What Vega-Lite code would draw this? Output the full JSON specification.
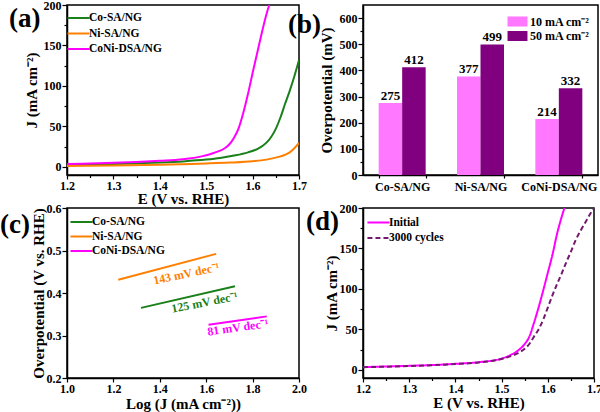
{
  "$schema": "https://vega.github.io/schema/vega-lite/v6.json",
  "background": "white",
  "padding": {"left": -1, "top": -2, "right": 2, "bottom": 2},
  "columns": 2,
  "bounds": "flush",
  "spacing": {"row": 33, "column": 64},
  "resolve": {
    "scale": {"color": "independent", "strokeDash": "independent", "x": "independent", "y": "independent"},
    "legend": {"color": "independent", "strokeDash": "independent"}
  },
  "config": {
    "font": "Liberation Serif",
    "view": {"stroke": "black", "strokeWidth": 1.5},
    "title": {"font": "Liberation Serif", "fontWeight": "bold", "color": "black"},
    "axis": {
      "labelFont": "Liberation Serif", "labelFontWeight": "bold", "labelFontSize": 12, "labelColor": "black",
      "titleFont": "Liberation Serif", "titleFontWeight": "bold", "titleFontSize": 15, "titleColor": "black",
      "domainColor": "black", "domainWidth": 1.5, "tickColor": "black", "tickWidth": 1.2, "grid": false,
      "labelPadding": 1, "titlePadding": 0, "labelFlush": false, "labelOverlap": false, "labelBound": false
    },
    "axisX": {"titlePadding": 0},
    "legend": {
      "labelFont": "Liberation Serif", "labelFontWeight": "bold", "labelFontSize": 11.5, "labelColor": "black",
      "padding": 0, "rowPadding": 2.5, "labelOffset": 3, "title": null
    }
  },
  "concat": [
    {
      "width": 232, "height": 170,
      "title": {"text": "(a)", "orient": "left", "anchor": "end", "angle": 0, "align": "right", "baseline": "top", "fontSize": 27, "offset": 0, "dx": 48, "dy": 7},
      "data": {"values": [
        {"series": "Co-SA/NG", "E": 1.20, "J": 2.5}, {"series": "Co-SA/NG", "E": 1.25, "J": 3.0}, {"series": "Co-SA/NG", "E": 1.30, "J": 3.6},
        {"series": "Co-SA/NG", "E": 1.35, "J": 4.4}, {"series": "Co-SA/NG", "E": 1.40, "J": 5.4}, {"series": "Co-SA/NG", "E": 1.45, "J": 6.8},
        {"series": "Co-SA/NG", "E": 1.50, "J": 9}, {"series": "Co-SA/NG", "E": 1.53, "J": 11}, {"series": "Co-SA/NG", "E": 1.56, "J": 14},
        {"series": "Co-SA/NG", "E": 1.59, "J": 18}, {"series": "Co-SA/NG", "E": 1.61, "J": 22}, {"series": "Co-SA/NG", "E": 1.63, "J": 30},
        {"series": "Co-SA/NG", "E": 1.64, "J": 37}, {"series": "Co-SA/NG", "E": 1.65, "J": 47}, {"series": "Co-SA/NG", "E": 1.66, "J": 61},
        {"series": "Co-SA/NG", "E": 1.67, "J": 78}, {"series": "Co-SA/NG", "E": 1.68, "J": 94}, {"series": "Co-SA/NG", "E": 1.69, "J": 112},
        {"series": "Co-SA/NG", "E": 1.70, "J": 132},
        {"series": "Ni-SA/NG", "E": 1.20, "J": 1.2}, {"series": "Ni-SA/NG", "E": 1.30, "J": 1.8}, {"series": "Ni-SA/NG", "E": 1.40, "J": 2.6},
        {"series": "Ni-SA/NG", "E": 1.45, "J": 3.3}, {"series": "Ni-SA/NG", "E": 1.50, "J": 4.2}, {"series": "Ni-SA/NG", "E": 1.55, "J": 5.3},
        {"series": "Ni-SA/NG", "E": 1.60, "J": 7}, {"series": "Ni-SA/NG", "E": 1.63, "J": 9}, {"series": "Ni-SA/NG", "E": 1.65, "J": 11.5},
        {"series": "Ni-SA/NG", "E": 1.67, "J": 15}, {"series": "Ni-SA/NG", "E": 1.68, "J": 18}, {"series": "Ni-SA/NG", "E": 1.69, "J": 23},
        {"series": "Ni-SA/NG", "E": 1.70, "J": 29.6},
        {"series": "CoNi-DSA/NG", "E": 1.20, "J": 3.5}, {"series": "CoNi-DSA/NG", "E": 1.25, "J": 4.2}, {"series": "CoNi-DSA/NG", "E": 1.30, "J": 5.0},
        {"series": "CoNi-DSA/NG", "E": 1.35, "J": 6.0}, {"series": "CoNi-DSA/NG", "E": 1.40, "J": 7.5}, {"series": "CoNi-DSA/NG", "E": 1.45, "J": 9.5},
        {"series": "CoNi-DSA/NG", "E": 1.49, "J": 13}, {"series": "CoNi-DSA/NG", "E": 1.51, "J": 16}, {"series": "CoNi-DSA/NG", "E": 1.53, "J": 20},
        {"series": "CoNi-DSA/NG", "E": 1.54, "J": 23}, {"series": "CoNi-DSA/NG", "E": 1.55, "J": 28}, {"series": "CoNi-DSA/NG", "E": 1.56, "J": 36},
        {"series": "CoNi-DSA/NG", "E": 1.57, "J": 48}, {"series": "CoNi-DSA/NG", "E": 1.58, "J": 67}, {"series": "CoNi-DSA/NG", "E": 1.59, "J": 90},
        {"series": "CoNi-DSA/NG", "E": 1.60, "J": 116}, {"series": "CoNi-DSA/NG", "E": 1.61, "J": 141}, {"series": "CoNi-DSA/NG", "E": 1.62, "J": 166},
        {"series": "CoNi-DSA/NG", "E": 1.63, "J": 189}, {"series": "CoNi-DSA/NG", "E": 1.636, "J": 200}
      ]},
      "mark": {"type": "line", "strokeWidth": 2, "interpolate": "monotone", "clip": true},
      "encoding": {
        "x": {"field": "E", "type": "quantitative", "scale": {"domain": [1.2, 1.7], "nice": false, "zero": false},
          "axis": {"title": "E (V vs. RHE)", "values": [1.2, 1.25, 1.3, 1.35, 1.4, 1.45, 1.5, 1.55, 1.6, 1.65, 1.7],
            "labelExpr": "abs(datum.value*10 - round(datum.value*10)) > 0.001 ? '' : format(datum.value, '.1f')",
            "tickSize": {"condition": {"test": "abs(datum.value*10 - round(datum.value*10)) > 0.001", "value": 2.5}, "value": 4}}},
        "y": {"field": "J", "type": "quantitative", "scale": {"domain": [-10, 200], "nice": false, "zero": false},
          "axis": {"title": "J (mA cm⁻²)", "titlePadding": 4, "values": [0, 25, 50, 75, 100, 125, 150, 175, 200],
            "labelExpr": "datum.value % 50 != 0 ? '' : datum.label",
            "tickSize": {"condition": {"test": "datum.value % 50 != 0", "value": 3}, "value": 5}}},
        "color": {"field": "series", "type": "nominal",
          "scale": {"domain": ["Co-SA/NG", "Ni-SA/NG", "CoNi-DSA/NG"], "range": ["#1A801A", "#FF8000", "#FF00FF"]},
          "legend": {"orient": "none", "legendX": 4, "legendY": 5.5, "symbolType": "M-1.7,0H1.7", "symbolSize": 169, "symbolStrokeWidth": 2}}
      }
    },
    {
      "width": 235, "height": 170,
      "title": {"text": "(b)", "orient": "left", "anchor": "end", "angle": 0, "align": "right", "baseline": "top", "fontSize": 27, "offset": 0, "dx": 35, "dy": 7},
      "data": {"values": [
        {"catalyst": "Co-SA/NG", "density": "10 mA cm⁻²", "value": 275},
        {"catalyst": "Co-SA/NG", "density": "50 mA cm⁻²", "value": 412},
        {"catalyst": "Ni-SA/NG", "density": "10 mA cm⁻²", "value": 377},
        {"catalyst": "Ni-SA/NG", "density": "50 mA cm⁻²", "value": 499},
        {"catalyst": "CoNi-DSA/NG", "density": "10 mA cm⁻²", "value": 214},
        {"catalyst": "CoNi-DSA/NG", "density": "50 mA cm⁻²", "value": 332}
      ]},
      "encoding": {
        "x": {"field": "catalyst", "type": "nominal", "sort": ["Co-SA/NG", "Ni-SA/NG", "CoNi-DSA/NG"],
          "scale": {"paddingInner": 0.4, "paddingOuter": 0.2},
          "axis": {"title": null, "labelAngle": 0, "tickBand": "extent", "tickSize": 3, "labelPadding": 3}},
        "xOffset": {"field": "density", "type": "nominal", "sort": ["10 mA cm⁻²", "50 mA cm⁻²"], "scale": {"paddingInner": 0, "paddingOuter": 0}},
        "y": {"field": "value", "type": "quantitative", "scale": {"domain": [0, 650], "nice": false},
          "axis": {"title": "Overpotential (mV)", "titlePadding": 5, "values": [0, 50, 100, 150, 200, 250, 300, 350, 400, 450, 500, 550, 600],
            "labelExpr": "datum.value % 100 != 0 ? '' : datum.label",
            "tickSize": {"condition": {"test": "datum.value % 100 != 0", "value": 3}, "value": 5}}}
      },
      "layer": [
        {
          "mark": {"type": "bar"},
          "encoding": {
            "color": {"field": "density", "type": "nominal",
              "scale": {"domain": ["10 mA cm⁻²", "50 mA cm⁻²"], "range": ["#FF78FF", "#800080"]},
              "legend": {"orient": "none", "legendX": 147, "legendY": 9, "symbolType": "M-1.33,-0.67H1.33V0.67H-1.33Z", "symbolSize": 225, "symbolStrokeWidth": 0, "labelOffset": 5, "labelFontSize": 12, "rowPadding": 0.5}}
          }
        },
        {
          "mark": {"type": "text", "dy": -7, "fontSize": 13, "fontWeight": "bold", "font": "Liberation Serif", "color": "black"},
          "encoding": {"text": {"field": "value", "type": "quantitative"}}
        }
      ]
    },
    {
      "width": 232, "height": 170,
      "title": {"text": "(c)", "orient": "left", "anchor": "end", "angle": 0, "align": "right", "baseline": "top", "fontSize": 27, "offset": 0, "dx": 29, "dy": 10},
      "layer": [
        {
          "data": {"values": [
            {"series": "Co-SA/NG", "logJ": 1.319, "eta": 0.365}, {"series": "Co-SA/NG", "logJ": 1.724, "eta": 0.416},
            {"series": "Ni-SA/NG", "logJ": 1.221, "eta": 0.431}, {"series": "Ni-SA/NG", "logJ": 1.643, "eta": 0.492},
            {"series": "CoNi-DSA/NG", "logJ": 1.610, "eta": 0.3255}, {"series": "CoNi-DSA/NG", "logJ": 1.861, "eta": 0.345}
          ]},
          "mark": {"type": "line", "strokeWidth": 2},
          "encoding": {
            "x": {"field": "logJ", "type": "quantitative", "scale": {"domain": [1.0, 2.0], "nice": false, "zero": false},
              "axis": {"title": "Log (J (mA cm⁻²))", "titlePadding": 2, "values": [1.0, 1.1, 1.2, 1.3, 1.4, 1.5, 1.6, 1.7, 1.8, 1.9, 2.0],
                "labelExpr": "abs(datum.value*5 - round(datum.value*5)) > 0.001 ? '' : format(datum.value, '.1f')",
                "tickSize": {"condition": {"test": "abs(datum.value*5 - round(datum.value*5)) > 0.001", "value": 2.5}, "value": 4}}},
            "y": {"field": "eta", "type": "quantitative", "scale": {"domain": [0.2, 0.6], "nice": false, "zero": false},
              "axis": {"title": "Overpotential (V vs. RHE)", "values": [0.2, 0.25, 0.3, 0.35, 0.4, 0.45, 0.5, 0.55, 0.6],
                "labelExpr": "abs(datum.value*10 - round(datum.value*10)) > 0.001 ? '' : format(datum.value, '.1f')",
                "tickSize": {"condition": {"test": "abs(datum.value*10 - round(datum.value*10)) > 0.001", "value": 3}, "value": 5}}},
            "color": {"field": "series", "type": "nominal",
              "scale": {"domain": ["Co-SA/NG", "Ni-SA/NG", "CoNi-DSA/NG"], "range": ["#1A801A", "#FF8000", "#FF00FF"]},
              "legend": {"orient": "none", "legendX": 7, "legendY": 6.5, "symbolType": "M-1.7,0H1.7", "symbolSize": 169, "symbolStrokeWidth": 2, "rowPadding": 1.5}},
            "detail": {"field": "series"}
          }
        },
        {
          "data": {"values": [{"series": "Ni-SA/NG", "logJ": 1.514, "eta": 0.4455, "label": "143 mV dec⁻¹"}]},
          "mark": {"type": "text", "angle": -12, "fontSize": 12, "fontWeight": "bold", "font": "Liberation Serif", "color": "#FF8000"},
          "encoding": {"x": {"field": "logJ", "type": "quantitative"}, "y": {"field": "eta", "type": "quantitative"}, "text": {"field": "label"}}
        },
        {
          "data": {"values": [{"series": "Co-SA/NG", "logJ": 1.593, "eta": 0.378, "label": "125 mV dec⁻¹"}]},
          "mark": {"type": "text", "angle": -11, "fontSize": 12, "fontWeight": "bold", "font": "Liberation Serif", "color": "#1A801A"},
          "encoding": {"x": {"field": "logJ", "type": "quantitative"}, "y": {"field": "eta", "type": "quantitative"}, "text": {"field": "label"}}
        },
        {
          "data": {"values": [{"series": "CoNi-DSA/NG", "logJ": 1.736, "eta": 0.319, "label": "81 mV dec⁻¹"}]},
          "mark": {"type": "text", "angle": -8, "fontSize": 12, "fontWeight": "bold", "font": "Liberation Serif", "color": "#FF00FF"},
          "encoding": {"x": {"field": "logJ", "type": "quantitative"}, "y": {"field": "eta", "type": "quantitative"}, "text": {"field": "label"}}
        }
      ]
    },
    {
      "width": 231, "height": 170,
      "title": {"text": "(d)", "orient": "left", "anchor": "end", "angle": 0, "align": "right", "baseline": "top", "fontSize": 27, "offset": 0, "dx": 48, "dy": 7},
      "data": {"values": [
        {"series": "Initial", "E": 1.20, "J": 3.5}, {"series": "Initial", "E": 1.25, "J": 4.2}, {"series": "Initial", "E": 1.30, "J": 5.0},
        {"series": "Initial", "E": 1.35, "J": 6.0}, {"series": "Initial", "E": 1.40, "J": 7.5}, {"series": "Initial", "E": 1.45, "J": 9.5},
        {"series": "Initial", "E": 1.50, "J": 14}, {"series": "Initial", "E": 1.52, "J": 18.5}, {"series": "Initial", "E": 1.54, "J": 26},
        {"series": "Initial", "E": 1.55, "J": 32}, {"series": "Initial", "E": 1.56, "J": 41}, {"series": "Initial", "E": 1.57, "J": 58},
        {"series": "Initial", "E": 1.58, "J": 77}, {"series": "Initial", "E": 1.59, "J": 98}, {"series": "Initial", "E": 1.60, "J": 120},
        {"series": "Initial", "E": 1.61, "J": 142}, {"series": "Initial", "E": 1.62, "J": 168}, {"series": "Initial", "E": 1.63, "J": 189},
        {"series": "Initial", "E": 1.636, "J": 200},
        {"series": "3000 cycles", "E": 1.20, "J": 3.3}, {"series": "3000 cycles", "E": 1.25, "J": 4.0}, {"series": "3000 cycles", "E": 1.30, "J": 4.8},
        {"series": "3000 cycles", "E": 1.35, "J": 5.8}, {"series": "3000 cycles", "E": 1.40, "J": 7.2}, {"series": "3000 cycles", "E": 1.45, "J": 9.2},
        {"series": "3000 cycles", "E": 1.50, "J": 13.5}, {"series": "3000 cycles", "E": 1.52, "J": 17}, {"series": "3000 cycles", "E": 1.54, "J": 22},
        {"series": "3000 cycles", "E": 1.55, "J": 26}, {"series": "3000 cycles", "E": 1.56, "J": 32}, {"series": "3000 cycles", "E": 1.57, "J": 41},
        {"series": "3000 cycles", "E": 1.58, "J": 50}, {"series": "3000 cycles", "E": 1.59, "J": 62}, {"series": "3000 cycles", "E": 1.60, "J": 77},
        {"series": "3000 cycles", "E": 1.61, "J": 92}, {"series": "3000 cycles", "E": 1.62, "J": 106}, {"series": "3000 cycles", "E": 1.63, "J": 119},
        {"series": "3000 cycles", "E": 1.64, "J": 133}, {"series": "3000 cycles", "E": 1.65, "J": 146}, {"series": "3000 cycles", "E": 1.66, "J": 160},
        {"series": "3000 cycles", "E": 1.67, "J": 171}, {"series": "3000 cycles", "E": 1.68, "J": 181}, {"series": "3000 cycles", "E": 1.69, "J": 191},
        {"series": "3000 cycles", "E": 1.70, "J": 200}
      ]},
      "mark": {"type": "line", "strokeWidth": 2, "interpolate": "monotone", "clip": true},
      "encoding": {
        "x": {"field": "E", "type": "quantitative", "scale": {"domain": [1.2, 1.7], "nice": false, "zero": false},
          "axis": {"title": "E (V vs. RHE)", "titlePadding": 1, "values": [1.2, 1.25, 1.3, 1.35, 1.4, 1.45, 1.5, 1.55, 1.6, 1.65, 1.7],
            "labelExpr": "abs(datum.value*10 - round(datum.value*10)) > 0.001 ? '' : format(datum.value, '.1f')",
            "tickSize": {"condition": {"test": "abs(datum.value*10 - round(datum.value*10)) > 0.001", "value": 2.5}, "value": 4}}},
        "y": {"field": "J", "type": "quantitative", "scale": {"domain": [-10, 200], "nice": false, "zero": false},
          "axis": {"title": "J (mA cm⁻²)", "values": [0, 25, 50, 75, 100, 125, 150, 175, 200],
            "labelExpr": "datum.value % 50 != 0 ? '' : datum.label",
            "tickSize": {"condition": {"test": "datum.value % 50 != 0", "value": 3}, "value": 5}}},
        "color": {"field": "series", "type": "nominal",
          "scale": {"domain": ["Initial", "3000 cycles"], "range": ["#FF00FF", "#731A6E"]},
          "legend": {"orient": "none", "legendX": 8, "legendY": 7, "symbolType": "M-1.7,0H1.7", "symbolSize": 169, "symbolStrokeWidth": 2}},
        "strokeDash": {"field": "series", "type": "nominal",
          "scale": {"domain": ["Initial", "3000 cycles"], "range": [[1, 0], [5, 3]]}}
      }
    }
  ]
}
